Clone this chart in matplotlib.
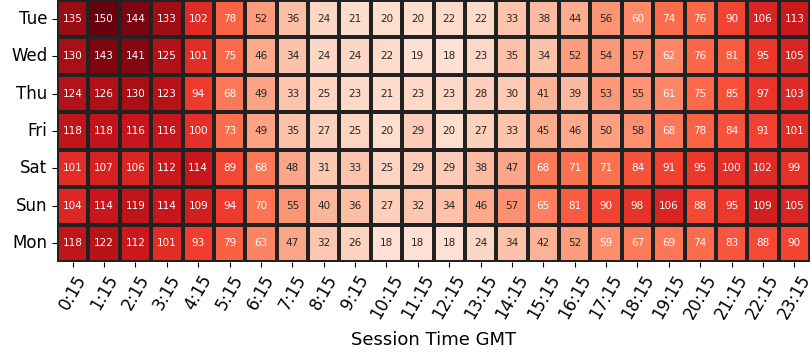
import numpy as np
import matplotlib
matplotlib.use("Agg")
import matplotlib.pyplot as plt
import seaborn as sns
import pandas as pd

days = ["Tue", "Wed", "Thu", "Fri", "Sat", "Sun", "Mon"]
hours = [f"{h}:15" for h in range(24)]

tue = [135, 150, 144, 133, 102, 78, 52, 36, 24, 21, 20, 20, 22, 22, 33, 38, 44, 56, 60, 74, 76, 90, 106, 113]
wed = [130, 143, 141, 125, 101, 75, 46, 34, 24, 24, 22, 19, 18, 23, 35, 34, 52, 54, 57, 62, 76, 81, 95, 105]
thu = [124, 126, 130, 123, 94, 68, 49, 33, 25, 23, 21, 23, 23, 28, 30, 41, 39, 53, 55, 61, 75, 85, 97, 103]
fri = [118, 118, 116, 116, 100, 73, 49, 35, 27, 25, 20, 29, 20, 27, 33, 45, 46, 50, 58, 68, 78, 84, 91, 101]
sat = [101, 107, 106, 112, 114, 89, 68, 48, 31, 33, 25, 29, 29, 38, 47, 68, 71, 71, 84, 91, 95, 100, 102, 99]
sun = [104, 114, 119, 114, 109, 94, 70, 55, 40, 36, 27, 32, 34, 46, 57, 65, 81, 90, 98, 106, 88, 95, 109, 105]
mon = [118, 122, 112, 101, 93, 79, 63, 47, 32, 26, 18, 18, 18, 24, 34, 42, 52, 59, 67, 69, 74, 83, 88, 90]

df = pd.DataFrame([tue, wed, thu, fri, sat, sun, mon], index=days, columns=hours)

fig = plt.figure(figsize=(8.1, 3.6), dpi=100)
ax = fig.add_axes([0.0704, 0.272, 0.9296, 0.728])
sns.heatmap(df, ax=ax, cmap="Reds", vmin=0, annot=True, fmt="d", cbar=False,
            linewidths=1.5, linecolor="#222222", annot_kws={"size": 7.5})
ax.set_xlabel("Session Time GMT", fontsize=13, labelpad=6)
ax.set_ylabel("")
ax.tick_params(axis="x", labelsize=12, rotation=60)
ax.tick_params(axis="y", labelsize=12, rotation=0)
fig.savefig("out.png", dpi=100)
